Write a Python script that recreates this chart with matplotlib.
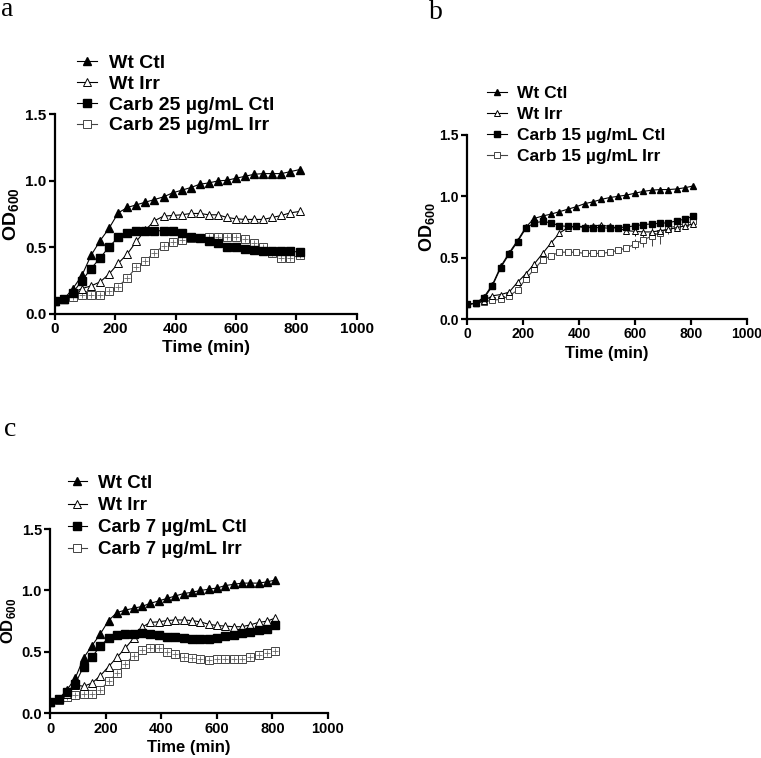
import numpy as np
import matplotlib
matplotlib.use("Agg")
import matplotlib.pyplot as plt

plt.rcParams['font.family'] = ['Liberation Sans', 'DejaVu Sans']
plt.rcParams['font.weight'] = 'bold'
plt.rcParams['mathtext.fontset'] = 'custom'
plt.rcParams['mathtext.rm'] = 'Liberation Sans:bold'
plt.rcParams['mathtext.bf'] = 'Liberation Sans:bold'

time = np.arange(0, 811, 30)

# panel a (Carb 25 ug/mL)
a_wt_ctl = [0.10, 0.11, 0.19, 0.29, 0.44, 0.55, 0.645, 0.76, 0.80, 0.82, 0.84, 0.86, 0.88, 0.91,
            0.93, 0.95, 0.975, 0.985, 1.0, 1.005, 1.02, 1.035, 1.05, 1.055, 1.055, 1.055, 1.07, 1.085]
a_wt_irr = [0.10, 0.11, 0.16, 0.19, 0.21, 0.24, 0.30, 0.38, 0.45, 0.545, 0.63, 0.70, 0.735, 0.74,
            0.745, 0.755, 0.755, 0.745, 0.745, 0.725, 0.715, 0.71, 0.71, 0.71, 0.725, 0.74, 0.76, 0.77]
a_cb_ctl = [0.10, 0.11, 0.16, 0.25, 0.34, 0.42, 0.505, 0.575, 0.605, 0.625, 0.62, 0.625, 0.625, 0.62,
            0.605, 0.575, 0.57, 0.55, 0.53, 0.505, 0.50, 0.49, 0.48, 0.475, 0.47, 0.47, 0.47, 0.465]
a_cb_irr = [0.10, 0.11, 0.125, 0.14, 0.14, 0.14, 0.17, 0.205, 0.27, 0.35, 0.40, 0.46, 0.51, 0.54,
            0.555, 0.57, 0.57, 0.575, 0.58, 0.58, 0.58, 0.565, 0.53, 0.50, 0.455, 0.42, 0.42, 0.44]

# panel b (Carb 15 ug/mL)
b_wt_ctl = [0.12, 0.13, 0.18, 0.28, 0.43, 0.54, 0.64, 0.75, 0.82, 0.84, 0.855, 0.875, 0.895, 0.915,
            0.94, 0.955, 0.975, 0.99, 1.0, 1.01, 1.025, 1.04, 1.05, 1.055, 1.055, 1.06, 1.07, 1.085]
b_wt_irr = [0.12, 0.13, 0.15, 0.19, 0.20, 0.22, 0.30, 0.37, 0.45, 0.535, 0.62, 0.70, 0.745, 0.755,
            0.755, 0.76, 0.765, 0.755, 0.74, 0.72, 0.715, 0.71, 0.71, 0.72, 0.73, 0.745, 0.76, 0.775]
b_cb_ctl = [0.12, 0.13, 0.17, 0.27, 0.42, 0.53, 0.63, 0.74, 0.785, 0.795, 0.785, 0.76, 0.755, 0.755,
            0.745, 0.745, 0.745, 0.74, 0.745, 0.75, 0.76, 0.77, 0.775, 0.78, 0.785, 0.80, 0.815, 0.84]
b_cb_irr = [0.12, 0.13, 0.14, 0.155, 0.16, 0.19, 0.235, 0.33, 0.405, 0.485, 0.515, 0.545, 0.545, 0.545,
            0.535, 0.535, 0.535, 0.545, 0.56, 0.58, 0.61, 0.645, 0.675, 0.705, 0.74, 0.76, 0.78, 0.795]
b_wt_irr_err = [0, 0, 0, 0, 0, 0, 0, 0, 0, 0, 0, 0, 0, 0,
                0, 0, 0, 0, 0, 0.03, 0.04, 0.04, 0.04, 0.03, 0.02, 0.02, 0.01, 0.01]
b_cb_irr_err = [0, 0, 0, 0, 0, 0, 0, 0, 0, 0, 0, 0, 0, 0,
                0, 0, 0, 0, 0.02, 0.02, 0.04, 0.06, 0.08, 0.09, 0.05, 0.03, 0.02, 0.01]

# panel c (Carb 7 ug/mL)
c_wt_ctl = [0.095, 0.115, 0.19, 0.285, 0.45, 0.55, 0.645, 0.755, 0.82, 0.84, 0.855, 0.87, 0.895, 0.915,
            0.935, 0.955, 0.975, 0.985, 1.0, 1.01, 1.02, 1.04, 1.05, 1.06, 1.06, 1.06, 1.07, 1.085]
c_wt_irr = [0.095, 0.115, 0.16, 0.23, 0.22, 0.245, 0.305, 0.38, 0.455, 0.53, 0.61, 0.70, 0.74, 0.745,
            0.755, 0.76, 0.76, 0.755, 0.745, 0.725, 0.715, 0.71, 0.705, 0.705, 0.72, 0.74, 0.75, 0.775]
c_cb_ctl = [0.095, 0.115, 0.17, 0.24, 0.38, 0.455, 0.55, 0.61, 0.64, 0.645, 0.645, 0.655, 0.645, 0.635,
            0.625, 0.62, 0.61, 0.605, 0.605, 0.605, 0.615, 0.63, 0.64, 0.65, 0.665, 0.68, 0.69, 0.715]
c_cb_irr = [0.095, 0.11, 0.13, 0.15, 0.155, 0.155, 0.19, 0.26, 0.325, 0.40, 0.47, 0.515, 0.53, 0.53,
            0.495, 0.48, 0.46, 0.45, 0.44, 0.435, 0.44, 0.44, 0.44, 0.445, 0.46, 0.475, 0.49, 0.505]

# letter, axes rect, data, conc, errors, legend anchor, legend size, labelspacing,
# handlelength, tick size, ylabel size, marker size, letter baseline position (px)
panels = [
    ('a', [0.072, 0.586, 0.397, 0.263], (a_wt_ctl, a_wt_irr, a_cb_ctl, a_cb_irr), '25', None, None,
     (0.101, 0.928), 14, 0.16, 1.05, 11, 14, 5.5, (1, 16)),
    ('b', [0.614, 0.579, 0.367, 0.243], (b_wt_ctl, b_wt_irr, b_cb_ctl, b_cb_irr), '15', b_wt_irr_err, b_cb_irr_err,
     (0.640, 0.887), 12.5, 0.35, 1.15, 10, 13, 5, (429, 19)),
    ('c', [0.066, 0.059, 0.365, 0.243], (c_wt_ctl, c_wt_irr, c_cb_ctl, c_cb_irr), '7', None, None,
     (0.0894, 0.3736), 13.5, 0.27, 1.0, 10.5, 12, 5.5, (4, 436)),
]

W, H = 761, 758
fig = plt.figure(figsize=(W / 100, H / 100), dpi=100)

for (letter, pos, series, conc, err_wi, err_ci, leg_xy, leg_fs, leg_sp, leg_hl,
     tick_fs, ylab_fs, ms, let_px) in panels:
    ax = fig.add_axes(pos)
    wt_ctl, wt_irr, cb_ctl, cb_irr = series
    ax.plot(time, wt_ctl, color='black', lw=0.8, marker='^', ms=ms, mfc='black', mec='black',
            label='Wt Ctl', zorder=4)
    ax.plot(time, wt_irr, color='black', lw=0.8, marker='^', ms=ms, mfc='white', mec='black',
            mew=0.7, label='Wt Irr', zorder=3)
    ax.plot(time, cb_ctl, color='black', lw=0.8, marker='s', ms=ms, mfc='black', mec='black',
            label='Carb ' + conc + ' µg/mL Ctl', zorder=3)
    ax.plot(time, cb_irr, color='#444444', lw=0.8, marker='s', ms=ms, mfc='white', mec='#444444',
            mew=0.7, label='Carb ' + conc + ' µg/mL Irr', zorder=2)
    if err_wi is not None:
        ax.errorbar(time, wt_irr, yerr=err_wi, fmt='none', ecolor='black', elinewidth=0.7, zorder=1)
        ax.errorbar(time, cb_irr, yerr=err_ci, fmt='none', ecolor='#444444', elinewidth=0.7, zorder=1)
    else:
        # small error bars inside the open squares
        ax.plot(time, cb_irr, ls='none', marker='+', ms=ms - 1, mew=0.6, color='#666666', zorder=2.5)

    ax.set_xlim(0, 1000)
    ax.set_ylim(0, 1.5)
    ax.set_xticks([0, 200, 400, 600, 800, 1000])
    ax.set_yticks([0.0, 0.5, 1.0, 1.5])
    ax.set_yticklabels(['0.0', '0.5', '1.0', '1.5'])
    for s in ['top', 'right']:
        ax.spines[s].set_visible(False)
    for s in ['left', 'bottom']:
        ax.spines[s].set_linewidth(1.6)
    ax.tick_params(width=1.6, length=4, labelsize=tick_fs, pad=2)
    ax.set_xlabel('Time (min)', fontsize=12.5 if letter == 'a' else 12, fontweight='bold', labelpad=3)
    ax.set_ylabel('OD$_{600}$', fontsize=ylab_fs, fontweight='bold', labelpad=2)
    ax.legend(loc='upper left', bbox_to_anchor=leg_xy, bbox_transform=fig.transFigure,
              frameon=False, fontsize=leg_fs, labelspacing=leg_sp, handlelength=leg_hl,
              handletextpad=0.6, borderpad=0, borderaxespad=0, markerscale=1.0)
    fig.text(let_px[0] / W, 1 - let_px[1] / H, letter, fontsize=20, fontweight='normal',
             family=['Liberation Serif', 'DejaVu Serif'], va='baseline', ha='left')

fig.savefig('out.png', dpi=100)
